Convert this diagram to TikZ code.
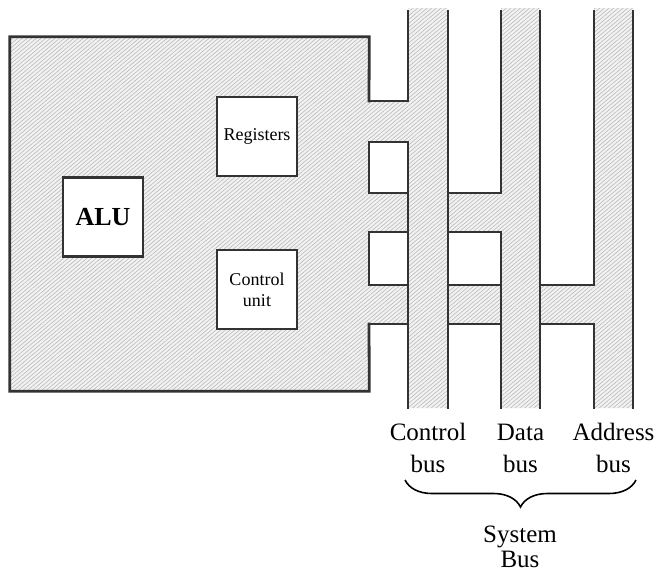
\documentclass[tikz,border=0pt]{standalone}
\usepackage{fontspec}
\setmainfont{Liberation Serif}
\usetikzlibrary{patterns.meta,decorations.pathreplacing,positioning}
\tikzset{hatch/.style={preaction={fill=gray!10},pattern={Lines[angle=40,distance=1.5pt,line width=0.3pt]},
 pattern color=gray!55},
 wire/.style={line width=1.4pt,draw=black!80,line cap=rect},
 unit/.style={draw=black!80,line width=1.4pt,fill=white,minimum width=40pt,minimum height=39.5pt,
 inner sep=1pt,align=center,font=\fontsize{9}{10.5}\selectfont},
 buslabel/.style={align=center,font=\fontsize{12.5}{16}\selectfont,inner sep=0pt,anchor=north}}
\begin{document}
\begin{tikzpicture}[x=0.5pt,y=-0.5pt]
\useasboundingbox (0,0) rectangle (660,574);
% shaded parts
\node[hatch,minimum width=179.5pt,minimum height=177pt,inner sep=0pt] (cpu) at (189.5,214) {};
\path[hatch] (408,8) rectangle (448,408) (501,8) rectangle (540,408) (594,8) rectangle (633,408);
\path[hatch] (369,101) rectangle (408,142) (369,193) rectangle (501,232) (369,285) rectangle (594,324);
% processor outline
\draw[wire] (369,101) -- (cpu.north east) -- (cpu.north west) -- (cpu.south west) -- (cpu.south east) -- (369,324);
\draw[wire] (369,142) -- (369,193) (369,232) -- (369,285);
% control bus
\draw[wire] (408,11) -- (408,101) -- (369,101) (369,142) -- (408,142) -- (408,408);
\draw[wire] (448,11) -- (448,408);
% data bus
\draw[wire] (501,11) -- (501,193) -- (448,193) (448,232) -- (501,232) -- (501,408);
\draw[wire] (540,11) -- (540,408);
% address bus
\draw[wire] (594,11) -- (594,285) -- (540,285) (540,324) -- (594,324) -- (594,408);
\draw[wire] (633,11) -- (633,408);
\foreach \y in {193,232,285,324}
  \draw[wire] (369,\y) -- (408,\y);
\foreach \y in {285,324}
  \draw[wire] (448,\y) -- (501,\y);
% units
\node[unit] (reg) at (257,136.5) {Registers};
\node[unit,font=\bfseries\fontsize{13}{15}\selectfont] (alu) at (103,217) {ALU};
\node[unit] (cu) at (257,289.5) {Control\\unit};
% labels
\node[buslabel] (cbus) at (428,418) {\strut Control\\bus};
\node[buslabel] (dbus) at (520.5,418) {\strut Data\\bus};
\node[buslabel] (abus) at (613.5,418) {\strut Address\\bus};
\coordinate (bl) at (405,480);
\coordinate (br) at (636,480);
\draw[decorate,decoration={brace,mirror,amplitude=13.5pt},line width=0.8pt] (bl) -- (br);
\node[buslabel,font=\fontsize{12.5}{12.5}\selectfont] (sys) at (520,526) {System\\Bus};
\end{tikzpicture}
\end{document}
